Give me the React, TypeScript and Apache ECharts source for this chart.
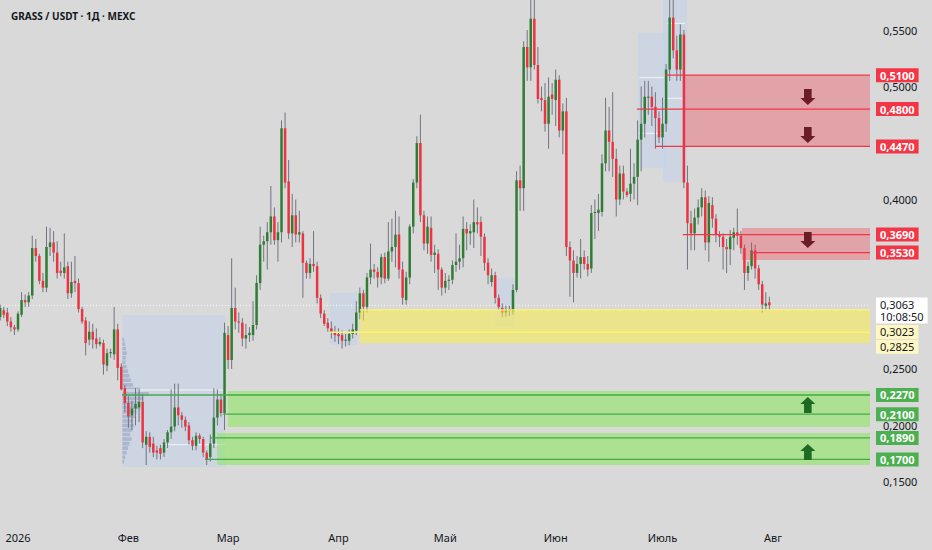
import React, { useEffect, useRef } from "react";
import * as echarts from "echarts";

// ---------------- data ----------------
// day index counted from 1 Jan 2026; first candle is 27 Dec 2025
const FIRST_DAY = -5;

// daily candles: [open, close, low, high]
const DEC_2025 = [
  [0.296, 0.304, 0.293, 0.307], [0.302, 0.298, 0.295, 0.305], [0.300, 0.292, 0.288, 0.304],
  [0.292, 0.287, 0.283, 0.296], [0.287, 0.285, 0.280, 0.289],
];
const JAN_2026 = [
  [0.285, 0.299, 0.283, 0.301], [0.298, 0.311, 0.296, 0.318], [0.311, 0.309, 0.305, 0.316],
  [0.309, 0.315, 0.305, 0.318], [0.315, 0.357, 0.312, 0.368], [0.357, 0.350, 0.345, 0.365],
  [0.350, 0.328, 0.325, 0.352], [0.328, 0.322, 0.318, 0.335], [0.322, 0.358, 0.318, 0.376],
  [0.358, 0.362, 0.350, 0.375], [0.362, 0.353, 0.345, 0.372], [0.353, 0.335, 0.330, 0.363],
  [0.337, 0.335, 0.332, 0.345], [0.335, 0.340, 0.330, 0.370], [0.341, 0.317, 0.312, 0.345],
  [0.317, 0.327, 0.313, 0.345], [0.328, 0.326, 0.318, 0.350], [0.326, 0.303, 0.300, 0.330],
  [0.303, 0.292, 0.290, 0.305], [0.293, 0.273, 0.262, 0.296], [0.276, 0.283, 0.271, 0.292],
  [0.283, 0.276, 0.268, 0.290], [0.277, 0.272, 0.268, 0.286], [0.272, 0.274, 0.270, 0.278],
  [0.273, 0.254, 0.245, 0.276], [0.253, 0.264, 0.248, 0.268], [0.264, 0.265, 0.260, 0.268],
  [0.263, 0.285, 0.258, 0.305], [0.285, 0.251, 0.240, 0.290], [0.252, 0.232, 0.231, 0.255],
  [0.233, 0.220, 0.212, 0.236],
];
const FEB_2026 = [
  [0.220, 0.208, 0.198, 0.226], [0.209, 0.215, 0.196, 0.222], [0.215, 0.219, 0.200, 0.233],
  [0.216, 0.221, 0.203, 0.232], [0.221, 0.185, 0.180, 0.228], [0.183, 0.190, 0.165, 0.195],
  [0.190, 0.181, 0.176, 0.194], [0.184, 0.176, 0.172, 0.190], [0.178, 0.176, 0.170, 0.182],
  [0.180, 0.175, 0.170, 0.183], [0.176, 0.185, 0.172, 0.188], [0.185, 0.194, 0.180, 0.196],
  [0.194, 0.199, 0.188, 0.232], [0.199, 0.216, 0.195, 0.237], [0.216, 0.209, 0.200, 0.237],
  [0.209, 0.205, 0.198, 0.212], [0.205, 0.199, 0.195, 0.208], [0.200, 0.187, 0.183, 0.203],
  [0.187, 0.182, 0.178, 0.190], [0.182, 0.191, 0.178, 0.194], [0.191, 0.188, 0.184, 0.193],
  [0.188, 0.176, 0.172, 0.190], [0.176, 0.170, 0.165, 0.178], [0.172, 0.184, 0.168, 0.192],
  [0.184, 0.207, 0.180, 0.233], [0.207, 0.223, 0.200, 0.232], [0.223, 0.211, 0.208, 0.228],
  [0.211, 0.282, 0.196, 0.291],
];
const MAR_2026 = [
  [0.280, 0.258, 0.250, 0.288], [0.258, 0.304, 0.250, 0.348], [0.304, 0.292, 0.285, 0.322],
  [0.292, 0.291, 0.282, 0.300], [0.291, 0.277, 0.270, 0.295], [0.277, 0.280, 0.268, 0.290],
  [0.280, 0.282, 0.274, 0.287], [0.280, 0.289, 0.275, 0.310], [0.289, 0.326, 0.285, 0.333],
  [0.326, 0.360, 0.320, 0.376], [0.360, 0.363, 0.345, 0.368], [0.363, 0.371, 0.338, 0.380],
  [0.371, 0.385, 0.360, 0.412], [0.385, 0.364, 0.360, 0.393], [0.364, 0.371, 0.345, 0.380],
  [0.371, 0.463, 0.362, 0.470], [0.463, 0.415, 0.410, 0.477], [0.416, 0.370, 0.365, 0.435],
  [0.370, 0.386, 0.358, 0.405], [0.386, 0.369, 0.362, 0.400], [0.369, 0.371, 0.362, 0.390],
  [0.370, 0.344, 0.313, 0.372], [0.344, 0.335, 0.330, 0.346], [0.335, 0.343, 0.330, 0.348],
  [0.343, 0.341, 0.336, 0.372], [0.341, 0.313, 0.308, 0.345], [0.313, 0.299, 0.295, 0.316],
  [0.299, 0.290, 0.288, 0.302], [0.291, 0.286, 0.283, 0.295], [0.286, 0.282, 0.277, 0.292],
  [0.282, 0.280, 0.274, 0.288],
];
const APR_2026 = [
  [0.281, 0.279, 0.272, 0.286], [0.280, 0.275, 0.268, 0.284], [0.275, 0.276, 0.270, 0.281],
  [0.275, 0.281, 0.271, 0.285], [0.281, 0.285, 0.277, 0.290], [0.284, 0.300, 0.280, 0.310],
  [0.300, 0.317, 0.294, 0.322], [0.317, 0.305, 0.293, 0.320], [0.305, 0.331, 0.300, 0.335],
  [0.331, 0.338, 0.325, 0.361], [0.338, 0.336, 0.330, 0.343], [0.336, 0.331, 0.322, 0.340],
  [0.331, 0.349, 0.325, 0.352], [0.349, 0.330, 0.326, 0.353], [0.330, 0.354, 0.328, 0.380],
  [0.354, 0.358, 0.345, 0.383], [0.358, 0.369, 0.340, 0.390], [0.369, 0.338, 0.330, 0.385],
  [0.338, 0.313, 0.307, 0.345], [0.311, 0.331, 0.307, 0.336], [0.331, 0.376, 0.325, 0.378],
  [0.376, 0.415, 0.370, 0.418], [0.415, 0.450, 0.410, 0.456], [0.450, 0.386, 0.380, 0.475],
  [0.386, 0.361, 0.355, 0.390], [0.361, 0.376, 0.352, 0.385], [0.375, 0.351, 0.345, 0.385],
  [0.351, 0.353, 0.335, 0.360], [0.352, 0.338, 0.320, 0.356], [0.338, 0.322, 0.315, 0.340],
];
const MAY_2026 = [
  [0.322, 0.328, 0.317, 0.335], [0.328, 0.329, 0.320, 0.333], [0.329, 0.342, 0.325, 0.346],
  [0.342, 0.345, 0.336, 0.370], [0.345, 0.348, 0.338, 0.360], [0.348, 0.374, 0.340, 0.385],
  [0.374, 0.370, 0.355, 0.380], [0.370, 0.372, 0.360, 0.378], [0.371, 0.380, 0.357, 0.400],
  [0.380, 0.378, 0.370, 0.393], [0.380, 0.367, 0.350, 0.385], [0.367, 0.344, 0.337, 0.370],
  [0.344, 0.333, 0.325, 0.348], [0.327, 0.333, 0.323, 0.339], [0.333, 0.313, 0.308, 0.336],
  [0.313, 0.305, 0.302, 0.316], [0.304, 0.300, 0.296, 0.308], [0.300, 0.303, 0.296, 0.306],
  [0.303, 0.302, 0.297, 0.306], [0.301, 0.320, 0.298, 0.325], [0.320, 0.417, 0.318, 0.425],
  [0.417, 0.410, 0.390, 0.430], [0.410, 0.535, 0.390, 0.540], [0.535, 0.517, 0.505, 0.550],
  [0.517, 0.560, 0.505, 0.580], [0.560, 0.519, 0.515, 0.580], [0.519, 0.489, 0.485, 0.535],
  [0.490, 0.488, 0.478, 0.500], [0.488, 0.467, 0.460, 0.503], [0.467, 0.491, 0.445, 0.508],
  [0.493, 0.489, 0.475, 0.503],
];
const JUN_2026 = [
  [0.488, 0.506, 0.465, 0.515], [0.506, 0.461, 0.455, 0.510], [0.461, 0.478, 0.440, 0.485],
  [0.478, 0.358, 0.350, 0.490], [0.358, 0.346, 0.314, 0.363], [0.346, 0.335, 0.309, 0.355],
  [0.335, 0.343, 0.331, 0.350], [0.343, 0.349, 0.330, 0.365], [0.349, 0.343, 0.338, 0.355],
  [0.343, 0.338, 0.332, 0.350], [0.339, 0.388, 0.335, 0.395], [0.388, 0.389, 0.365, 0.400],
  [0.388, 0.391, 0.372, 0.405], [0.389, 0.432, 0.385, 0.440], [0.432, 0.461, 0.425, 0.490],
  [0.461, 0.451, 0.425, 0.482], [0.451, 0.436, 0.420, 0.495], [0.436, 0.400, 0.385, 0.445],
  [0.400, 0.423, 0.395, 0.430], [0.423, 0.407, 0.400, 0.430], [0.407, 0.404, 0.402, 0.410],
  [0.405, 0.414, 0.398, 0.445], [0.414, 0.420, 0.400, 0.432], [0.420, 0.453, 0.395, 0.470],
  [0.453, 0.467, 0.425, 0.500], [0.467, 0.491, 0.455, 0.505], [0.490, 0.491, 0.475, 0.505],
  [0.491, 0.482, 0.465, 0.500], [0.482, 0.472, 0.445, 0.495], [0.472, 0.455, 0.450, 0.478],
];
const JUL_2026 = [
  [0.455, 0.467, 0.445, 0.490], [0.467, 0.515, 0.460, 0.520], [0.515, 0.561, 0.505, 0.580],
  [0.561, 0.532, 0.525, 0.580], [0.532, 0.515, 0.505, 0.545], [0.515, 0.546, 0.505, 0.555],
  [0.546, 0.415, 0.410, 0.550], [0.415, 0.379, 0.338, 0.430], [0.379, 0.370, 0.355, 0.390],
  [0.370, 0.384, 0.355, 0.392], [0.384, 0.393, 0.378, 0.400], [0.393, 0.402, 0.385, 0.410],
  [0.402, 0.362, 0.355, 0.408], [0.362, 0.397, 0.345, 0.403], [0.395, 0.383, 0.375, 0.402],
  [0.383, 0.369, 0.362, 0.387], [0.369, 0.367, 0.358, 0.372], [0.367, 0.358, 0.338, 0.370],
  [0.358, 0.356, 0.335, 0.365], [0.356, 0.367, 0.342, 0.373], [0.366, 0.371, 0.355, 0.375],
  [0.371, 0.368, 0.360, 0.392], [0.368, 0.357, 0.352, 0.372], [0.357, 0.335, 0.320, 0.360],
  [0.335, 0.341, 0.328, 0.345], [0.341, 0.355, 0.338, 0.362], [0.355, 0.339, 0.330, 0.360],
  [0.339, 0.325, 0.320, 0.342], [0.325, 0.307, 0.300, 0.328], [0.306, 0.308, 0.302, 0.318],
  [0.309, 0.3063, 0.302, 0.314],
];

const MONTH_TICK_DAYS = [0, 31, 59, 90, 120, 151, 181, 212];
const MONTH_LABELS = ["2026", "Фев", "Мар", "Апр", "Май", "Июн", "Июль", "Авг"];
// 0,3000 and 0,3500 sit completely under the price tags in the reference
const PRICE_TICKS = [0.15, 0.2, 0.25, 0.4, 0.45, 0.5, 0.55];

const LAST_PRICE = 0.3063;
const COUNTDOWN = "10:08:50";

// zones: [start day, top price, bottom price]
const RESISTANCE_ZONES = [[187.3, 0.51, 0.447], [203.3, 0.3748, 0.3465]];
const RANGE_ZONES = [[96.0, 0.3023, 0.2727]];
const SUPPORT_ZONES = [[58.9, 0.2305, 0.1987], [55.9, 0.1934, 0.165]];

// levels: [start day, price]
const RESISTANCE_LEVELS = [[181.7, 0.51], [173.8, 0.48], [178.9, 0.447], [186.7, 0.369], [206.4, 0.353]];
const RANGE_LEVELS = [[96.0, 0.3023], [87.6, 0.2825]];
const SUPPORT_LEVELS = [[29.2, 0.227], [57.6, 0.21], [53.9, 0.189], [52.5, 0.17]];

// arrows: [day, price]
const DOWN_ARROWS = [[221.8, 0.4907], [221.8, 0.457], [221.8, 0.3642]];
const UP_ARROWS = [[221.8, 0.2182], [221.8, 0.1765]];

// volume-profile ranges: [from day, to day, top price, bottom price]
const PROFILE_BOXES = [
  [29.3, 58.1, 0.2978, 0.1633], [87.6, 95.2, 0.3173, 0.2712], [134.0, 139.6, 0.3305, 0.2872],
  [174.1, 182.0, 0.5473, 0.4279], [181.1, 187.9, 0.5765, 0.4155],
];
// value-area lines inside the ranges: [from day, to day, price]
const PROFILE_LINES = [
  [29.3, 58.1, 0.2314], [40.0, 58.1, 0.183], [174.5, 181.5, 0.5078], [174.5, 181.5, 0.4586],
  [181.4, 187.3, 0.4896], [182.3, 187.3, 0.5559],
];
// first profile histogram: [price, volume width in days]
const PROFILE_1_START = 29.3;
const PROFILE_1_ROWS = [
  [0.276, 0.5], [0.272, 0.8], [0.268, 1.0], [0.264, 1.2], [0.260, 1.0], [0.256, 0.9], [0.252, 1.2],
  [0.248, 1.6], [0.244, 2.0], [0.240, 2.4], [0.236, 3.0], [0.232, 5.0], [0.228, 7.5], [0.224, 6.0],
  [0.220, 4.5], [0.216, 5.0], [0.212, 4.0], [0.208, 3.5], [0.204, 3.0], [0.200, 3.2], [0.196, 2.8],
  [0.192, 2.2], [0.188, 2.6], [0.184, 2.0], [0.180, 1.6], [0.176, 1.2], [0.172, 0.8], [0.168, 0.5],
];

// ---------------- view ----------------
const XMIN = -5.055;
const XMAX = 239.26;
const YMIN = 0.11106;
const YMAX = 0.57655;
const FONT = "'Noto Sans', 'Open Sans', sans-serif";
const UP = "#2e7d32";
const DOWN = "#ec3340";
const WICK = "#72757e";
const TEXT = "#131722";

const ZONE_FILL = ["rgba(242,54,69,0.33)", "rgba(255,240,60,0.5)", "rgba(120,235,60,0.45)"];
const LEVEL_STROKE = ["#f23645", "#fff36a", "#43a948"];
const TAG_BG = ["#f23645", "#fff7c2", "#4caf50"];
const TAG_FG = ["#ffffff", TEXT, "#ffffff"];
const TAG_NUDGE: Record<string, number> = { "0.3023": 22, "0.2825": 14.5 };

const fmt = (v: number) => v.toFixed(4).replace(".", ",");

export default function App() {
  const ref = useRef<HTMLDivElement>(null);

  useEffect(() => {
    if (!ref.current) return;
    const chart = echarts.init(ref.current, undefined, { renderer: "svg" });

    const rows = [...DEC_2025, ...JAN_2026, ...FEB_2026, ...MAR_2026, ...APR_2026, ...MAY_2026, ...JUN_2026, ...JUL_2026];
    const candles = rows.map((r, i) => [FIRST_DAY + i, r[0], r[1], r[2], r[3]]);

    const zones = [
      ...RESISTANCE_ZONES.map((z) => [z[0], z[1], z[2], 0]),
      ...RANGE_ZONES.map((z) => [z[0], z[1], z[2], 1]),
      ...SUPPORT_ZONES.map((z) => [z[0], z[1], z[2], 2]),
    ];
    const levels = [
      ...RESISTANCE_LEVELS.map((l) => [l[0], l[1], 0]),
      ...RANGE_LEVELS.map((l) => [l[0], l[1], 1]),
      ...SUPPORT_LEVELS.map((l) => [l[0], l[1], 2]),
    ];
    const tags = [
      ...RESISTANCE_LEVELS.map((l) => [XMAX, l[1], 0, 0]),
      ...RANGE_LEVELS.map((l) => [XMAX, l[1], 1, TAG_NUDGE[String(l[1])] || 0]),
      ...SUPPORT_LEVELS.map((l) => [XMAX, l[1], 2, 0]),
      [XMAX, LAST_PRICE, 3, 5],
    ];
    const arrows = [...DOWN_ARROWS.map((a) => [a[0], a[1], -1]), ...UP_ARROWS.map((a) => [a[0], a[1], 1])];

    const option: any = {
      animation: false,
      backgroundColor: "#d9d9d9",
      textStyle: { fontFamily: FONT },
      title: {
        text: "GRASS / USDT · 1Д · MEXC",
        left: 6,
        top: 6,
        textStyle: { fontSize: 10, fontWeight: "bold", color: TEXT, fontFamily: FONT },
      },
      grid: { left: 0, right: 62, top: 0, bottom: 24 },
      xAxis: {
        type: "value",
        min: XMIN,
        max: XMAX,
        axisLine: { show: false },
        axisTick: { show: false },
        splitLine: { show: false },
        axisLabel: {
          customValues: MONTH_TICK_DAYS,
          formatter: (v: number) => MONTH_LABELS[MONTH_TICK_DAYS.indexOf(Math.round(v))] ?? "",
          color: TEXT,
          fontSize: 11,
          margin: 6,
          fontFamily: FONT,
        },
      },
      yAxis: {
        type: "value",
        position: "right",
        min: YMIN,
        max: YMAX,
        axisLine: { show: false },
        axisTick: { show: false },
        splitLine: { show: false },
        axisLabel: {
          customValues: PRICE_TICKS,
          formatter: (v: number) => fmt(v),
          color: TEXT,
          fontSize: 11,
          margin: 13,
          fontFamily: FONT,
        },
      },
      series: [
        {
          name: "profileBoxes",
          type: "custom",
          z: 1,
          clip: true,
          silent: true,
          data: PROFILE_BOXES,
          encode: { x: [0, 1], y: [2, 3] },
          renderItem: (_p: any, api: any) => {
            const a = api.coord([api.value(0), api.value(2)]);
            const b = api.coord([api.value(1), api.value(3)]);
            return {
              type: "rect",
              shape: { x: a[0], y: a[1], width: b[0] - a[0], height: b[1] - a[1] },
              style: { fill: "rgba(195,210,235,0.55)" },
            };
          },
        },
        {
          name: "profileRows",
          type: "custom",
          z: 1,
          clip: true,
          silent: true,
          data: PROFILE_1_ROWS,
          encode: { y: 0 },
          renderItem: (_p: any, api: any) => {
            const price = api.value(0);
            const w = api.value(1);
            const a = api.coord([PROFILE_1_START, price + 0.0016]);
            const b = api.coord([PROFILE_1_START + w, price - 0.0016]);
            return {
              type: "rect",
              shape: { x: a[0], y: a[1], width: b[0] - a[0], height: b[1] - a[1] },
              style: { fill: "rgba(120,138,175,0.4)" },
            };
          },
        },
        {
          name: "profileLines",
          type: "custom",
          z: 1,
          clip: true,
          silent: true,
          data: PROFILE_LINES,
          encode: { x: [0, 1], y: 2 },
          renderItem: (_p: any, api: any) => {
            const a = api.coord([api.value(0), api.value(2)]);
            const b = api.coord([api.value(1), api.value(2)]);
            return {
              type: "line",
              shape: { x1: a[0], y1: a[1], x2: b[0], y2: b[1] },
              style: { stroke: "rgba(255,255,255,0.75)", lineWidth: 1 },
            };
          },
        },
        {
          name: "lastPriceLine",
          type: "custom",
          z: 2,
          silent: true,
          data: [[XMIN, LAST_PRICE]],
          encode: { x: 0, y: 1 },
          renderItem: (_p: any, api: any) => {
            const a = api.coord([XMIN, api.value(1)]);
            const b = api.coord([XMAX, api.value(1)]);
            return {
              type: "line",
              shape: { x1: a[0], y1: a[1], x2: b[0], y2: b[1] },
              style: { stroke: "rgba(250,250,250,0.9)", lineWidth: 1, lineDash: [1, 2] },
            };
          },
        },
        {
          name: "GRASS/USDT",
          type: "custom",
          z: 3,
          clip: true,
          data: candles,
          encode: { x: 0, y: [1, 2, 3, 4] },
          renderItem: (_p: any, api: any) => {
            const d = api.value(0);
            const o = api.value(1);
            const c = api.value(2);
            const pO = api.coord([d, o]);
            const pC = api.coord([d, c]);
            const pL = api.coord([d, api.value(3)]);
            const pH = api.coord([d, api.value(4)]);
            const bw = api.size([1, 0])[0] * 0.7;
            const top = Math.min(pO[1], pC[1]);
            const h = Math.max(1, Math.abs(pO[1] - pC[1]));
            return {
              type: "group",
              children: [
                { type: "line", shape: { x1: pO[0], y1: pH[1], x2: pO[0], y2: pL[1] }, style: { stroke: WICK, lineWidth: 1 } },
                { type: "rect", shape: { x: pO[0] - bw / 2, y: top, width: bw, height: h }, style: { fill: c >= o ? UP : DOWN } },
              ],
            };
          },
        },
        {
          name: "zones",
          type: "custom",
          z: 4,
          clip: true,
          silent: true,
          data: zones,
          encode: { x: 0, y: [1, 2] },
          renderItem: (_p: any, api: any) => {
            const a = api.coord([api.value(0), api.value(1)]);
            const b = api.coord([XMAX, api.value(2)]);
            return {
              type: "rect",
              shape: { x: a[0], y: a[1], width: b[0] - a[0], height: b[1] - a[1] },
              style: { fill: ZONE_FILL[api.value(3)] },
            };
          },
        },
        {
          name: "levels",
          type: "custom",
          z: 5,
          clip: true,
          silent: true,
          data: levels,
          encode: { x: 0, y: 1 },
          renderItem: (_p: any, api: any) => {
            const a = api.coord([api.value(0), api.value(1)]);
            const b = api.coord([XMAX, api.value(1)]);
            return {
              type: "line",
              shape: { x1: a[0], y1: a[1], x2: b[0], y2: b[1] },
              style: { stroke: LEVEL_STROKE[api.value(2)], lineWidth: 1.3 },
            };
          },
        },
        {
          name: "arrows",
          type: "custom",
          z: 6,
          silent: true,
          data: arrows,
          encode: { x: 0, y: 1 },
          renderItem: (_p: any, api: any) => {
            const p = api.coord([api.value(0), api.value(1)]);
            const dir = api.value(2); // -1 down, 1 up
            const s = -dir;
            const pts = [
              [-3.8, -8], [3.8, -8], [3.8, 1], [7.5, 1], [0, 8], [-7.5, 1], [-3.8, 1],
            ].map((q) => [p[0] + q[0], p[1] + q[1] * s]);
            return {
              type: "polygon",
              shape: { points: pts },
              style: { fill: dir < 0 ? "#6b1c25" : "#1d6b22" },
            };
          },
        },
        {
          name: "tags",
          type: "custom",
          z: 10,
          clip: false,
          silent: true,
          data: tags,
          encode: { x: 0, y: 1 },
          renderItem: (_p: any, api: any) => {
            const price = api.value(1);
            const kind = api.value(2);
            const nudge = api.value(3);
            const p = api.coord([XMAX, price]);
            const isLast = kind === 3;
            return {
              type: "text",
              x: p[0] + 6,
              y: p[1] + nudge,
              style: {
                text: isLast ? fmt(price) + "\n" + COUNTDOWN : fmt(price),
                fill: isLast ? TEXT : TAG_FG[kind],
                backgroundColor: isLast ? "#ffffff" : TAG_BG[kind],
                padding: [1, 4, 1, 4],
                lineHeight: 12,
                fontSize: 11,
                fontWeight: isLast || kind === 1 ? "normal" : "bold",
                fontFamily: FONT,
                align: "left",
                verticalAlign: "middle",
              },
            };
          },
        },
      ],
    };

    chart.setOption(option);
    return () => chart.dispose();
  }, []);

  return (
    <div
      ref={ref}
      style={{ position: "fixed", left: 0, top: 0, width: 932, height: 550, background: "#d9d9d9" }}
    />
  );
}
